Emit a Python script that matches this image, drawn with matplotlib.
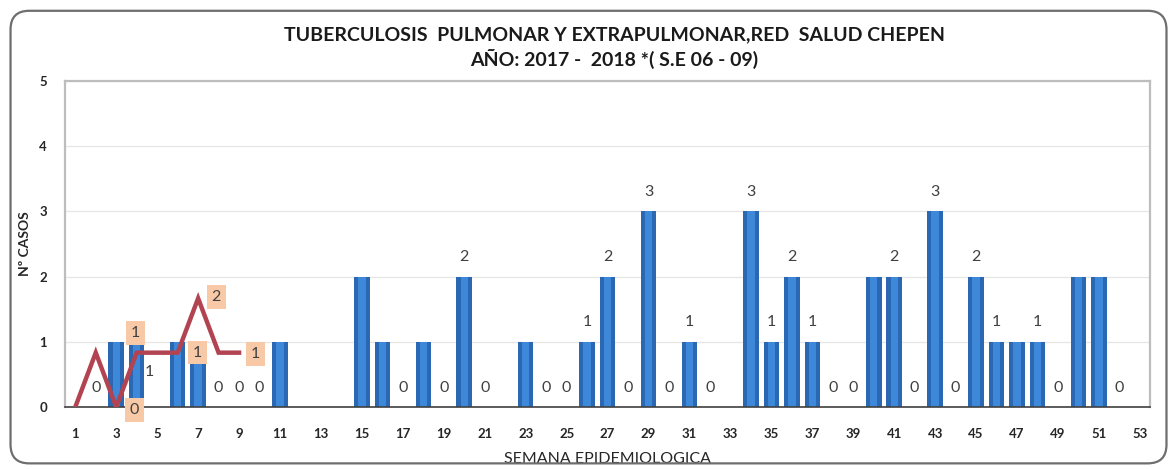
import numpy as np
import matplotlib.pyplot as plt
from matplotlib.patches import FancyBboxPatch

plt.rcParams['font.family'] = ['Lato', 'DejaVu Sans']

# Datos: semanas epidemiologicas 1..53
semanas = np.arange(1, 54)

# 2017 (barras) - None = sin dato
casos_2017 = [None, 0, 1, 1, None, 1, 1, 0, 0, 0,
              1, None, None, None, 2, 1, 0, 1, 0, 2,
              0, None, 1, 0, 0, 1, 2, 0, 3, 0,
              1, 0, None, 3, 1, 2, 1, 0, 0, 2,
              2, 0, 3, 0, 2, 1, 1, 1, 0, 2,
              2, 0, None]
# barras cuyo rotulo no aparece en el grafico
sin_rotulo = [3, 6, 7, 11, 15, 16, 18, 23, 40, 47, 50, 51]

# 2018 (linea, S.E 01 - 09), eje secundario 0-6
semanas_2018 = np.arange(1, 10)
casos_2018 = [0, 1, 0, 1, 1, 1, 2, 1, 1]
rotulos_2018 = [3, 4, 6, 7, 9]

titulo = ('TUBERCULOSIS  PULMONAR Y EXTRAPULMONAR,RED  SALUD CHEPEN\n'
          'AÑO: 2017 -  2018 *( S.E 06 - 09)')

fig = plt.figure(figsize=(11.7, 4.69), dpi=100)
ax = fig.add_axes([0.0556, 0.1322, 0.9274, 0.6951])

# marco exterior redondeado
marco = FancyBboxPatch((0.009, 0.012), 0.988, 0.965, transform=fig.transFigure,
                       boxstyle='round,pad=0,rounding_size=0.016',
                       fc='none', ec='#6e6e6e', lw=1.6, mutation_aspect=2.5)
fig.patches.append(marco)

x_b = [s for s, v in zip(semanas, casos_2017) if v is not None]
y_b = [v for v in casos_2017 if v is not None]
ax.bar(x_b, y_b, width=0.76, color='#2A68B3', zorder=2)
ax.bar(x_b, y_b, width=0.36, color='#3D88D8', zorder=2)

for s, v in zip(x_b, y_b):
    if s in sin_rotulo:
        continue
    dx, dy = (0, 14)
    if s == 4:
        dx, dy = (9, -22)
    ax.annotate(str(v), (s, v), xytext=(dx, dy), textcoords='offset points',
                ha='center', va='center', fontsize=11.5, color='#404040',
                zorder=5)

ax.set_xlim(0.5, 53.5)
ax.set_ylim(0, 5)
ax.set_xticks(semanas[::2])
ax.set_yticks(range(0, 6))
ax.tick_params(length=0, labelsize=9.5, colors='#262626')
ax.xaxis.set_tick_params(pad=15)
ax.yaxis.set_tick_params(pad=13)
for t in ax.get_xticklabels() + ax.get_yticklabels():
    t.set_fontweight('bold')
ax.grid(axis='y', color='#e6e6e6', lw=0.9, zorder=0)
for lado in ['left', 'top', 'right']:
    ax.spines[lado].set_color('#bdbdbd')
    ax.spines[lado].set_linewidth(1.6)
ax.spines['bottom'].set_color('#404040')
ax.spines['bottom'].set_linewidth(1.2)

ax.set_ylabel('Nº CASOS', fontsize=10, fontweight='bold', color='#262626',
              labelpad=6)
ax.set_xlabel('SEMANA EPIDEMIOLOGICA', fontsize=11.5, color='#262626',
              labelpad=9)
fig.text(0.525, 0.898, titulo, ha='center', va='center', fontsize=14,
         fontweight='bold', color='#1a1a1a', linespacing=1.35)

# linea 2018 en eje secundario oculto
ax2 = ax.twinx()
ax2.set_ylim(0, 6)
ax2.axis('off')
ax2.plot(semanas_2018, casos_2018, color='#B24452', lw=3.2,
         solid_joinstyle='miter', zorder=4)
desplaz = {3: (13, -2), 4: (-1, 14), 6: (14, 0), 7: (13, 1), 9: (12, -1)}
for s in rotulos_2018:
    v = casos_2018[s - 1]
    ax2.annotate(str(v), (s, v), xytext=desplaz[s], textcoords='offset points',
                 ha='center', va='center', fontsize=11.5, color='#404040',
                 bbox=dict(boxstyle='square,pad=0.3', fc='#F7C9A6', ec='none'),
                 zorder=6)

plt.savefig('out.png', dpi=100)
